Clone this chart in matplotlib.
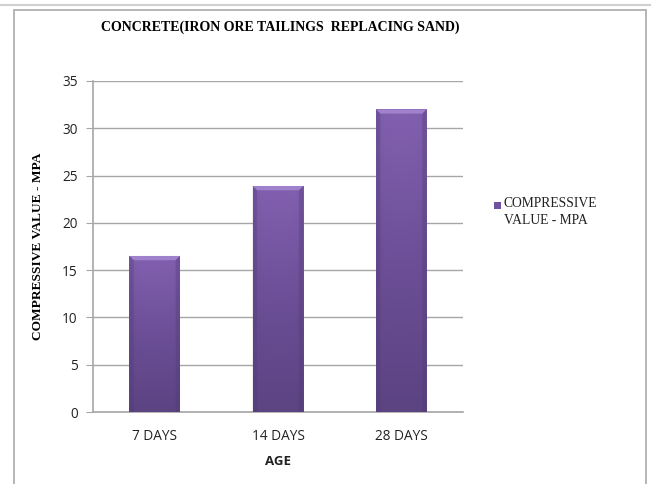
import numpy as np
import matplotlib
matplotlib.use('Agg')
import matplotlib.pyplot as plt
from matplotlib.patches import Polygon, Rectangle
from matplotlib.lines import Line2D
from matplotlib.colors import LinearSegmentedColormap

AGES = ['7 DAYS', '14 DAYS', '28 DAYS']
COMPRESSIVE_MPA = [16.5, 23.9, 32.0]

TITLE = 'CONCRETE(IRON ORE TAILINGS  REPLACING SAND)'
SERIES_NAME = 'COMPRESSIVE\nVALUE - MPA'

BAR_WIDTH = 0.41
GRID_GRAY = '#a6a6a6'
SERIF = ['Liberation Serif', 'DejaVu Serif']
SANS = ['Open Sans', 'DejaVu Sans']

bar_cmap = LinearSegmentedColormap.from_list('bar', ['#5c4382', '#6c4f97', '#8260b0'])


def draw_bar(ax, x, h, w):
    left = x - w / 2
    rect = Rectangle((left, 0), w, h, facecolor='none', edgecolor='none')
    ax.add_patch(rect)
    # vertical gradient, darker at the bottom, slight darkening at the sides
    ny, nx = 64, 32
    vert = np.linspace(0, 1, ny)[:, None]
    horiz = 1 - 0.12 * np.abs(np.linspace(-1, 1, nx))[None, :] ** 4
    grad = vert * horiz
    im = ax.imshow(grad, cmap=bar_cmap, vmin=0, vmax=1, origin='lower',
                   extent=(left, left + w, 0, h), aspect='auto', zorder=3,
                   interpolation='bicubic')
    im.set_clip_path(rect)
    # bevelled top edge
    bx, by = 0.035, 0.45
    top = Polygon([(left, h), (left + w, h), (left + w - bx, h - by), (left + bx, h - by)],
                  closed=True, facecolor='#9f81cc', edgecolor='none', zorder=4)
    ax.add_patch(top)
    for xs in ((left, left + bx), (left + w, left + w - bx)):
        side = Polygon([(xs[0], h), (xs[1], h - by), (xs[1], 0), (xs[0], 0)],
                       closed=True, facecolor='#4e3970', edgecolor='none', alpha=0.3, zorder=4)
        ax.add_patch(side)


fig = plt.figure(figsize=(6.51, 4.84), dpi=100)
fig.patch.set_facecolor('white')

# outer chart frame
fig.add_artist(Line2D([0, 1], [1 - 5 / 484, 1 - 5 / 484], color='#cfcfcf', linewidth=1.5))
fig.add_artist(Rectangle((14 / 651, -0.05), (646 - 14) / 651, 1.05 - 10 / 484,
                         fill=False, edgecolor='#b0b0b0', linewidth=1.3))

ax = fig.add_axes([93 / 651, 1 - 412 / 484, 370 / 651, 331 / 484])
x = np.arange(len(AGES))
for xi, v in zip(x, COMPRESSIVE_MPA):
    draw_bar(ax, xi, v, BAR_WIDTH)

ax.set_xlim(-0.5, len(AGES) - 0.5)
ax.set_ylim(0, 35)
ax.set_yticks(np.arange(0, 36, 5))
ax.set_xticks(x)
ax.set_xticklabels(AGES, family=SANS, fontsize=9.8, color='#222222')
ax.tick_params(axis='y', labelsize=9.8, colors='#222222', length=5, color=GRID_GRAY, pad=6)
ax.tick_params(axis='x', length=0, pad=12)
for lab in ax.get_yticklabels():
    lab.set_family(SANS)
ax.grid(axis='y', color=GRID_GRAY, linewidth=1)
ax.set_axisbelow(True)
for s in ('top', 'right'):
    ax.spines[s].set_visible(False)
for s in ('left', 'bottom'):
    ax.spines[s].set_color(GRID_GRAY)
    ax.spines[s].set_linewidth(1.2)

ax.set_xlabel('AGE', family=SANS, fontsize=9.5, fontweight='bold', color='#222222', labelpad=8)
ax.set_ylabel('COMPRESSIVE VALUE - MPA', family=SERIF, fontsize=9.6, fontweight='bold', labelpad=13)

fig.text(280 / 651, 1 - 27 / 484, TITLE, family=SERIF, fontsize=10, fontweight='bold',
         ha='center', va='center')

# legend
fig.add_artist(Rectangle((494 / 651, 1 - 209 / 484), 7 / 651, 7 / 484,
                         facecolor='#6f52a0', edgecolor='none'))
fig.text(504 / 651, 1 - 197 / 484, SERIES_NAME, family=SERIF, fontsize=9.8,
         ha='left', va='top', linespacing=1.45, color='#222222')

fig.savefig('out.png', dpi=100)
